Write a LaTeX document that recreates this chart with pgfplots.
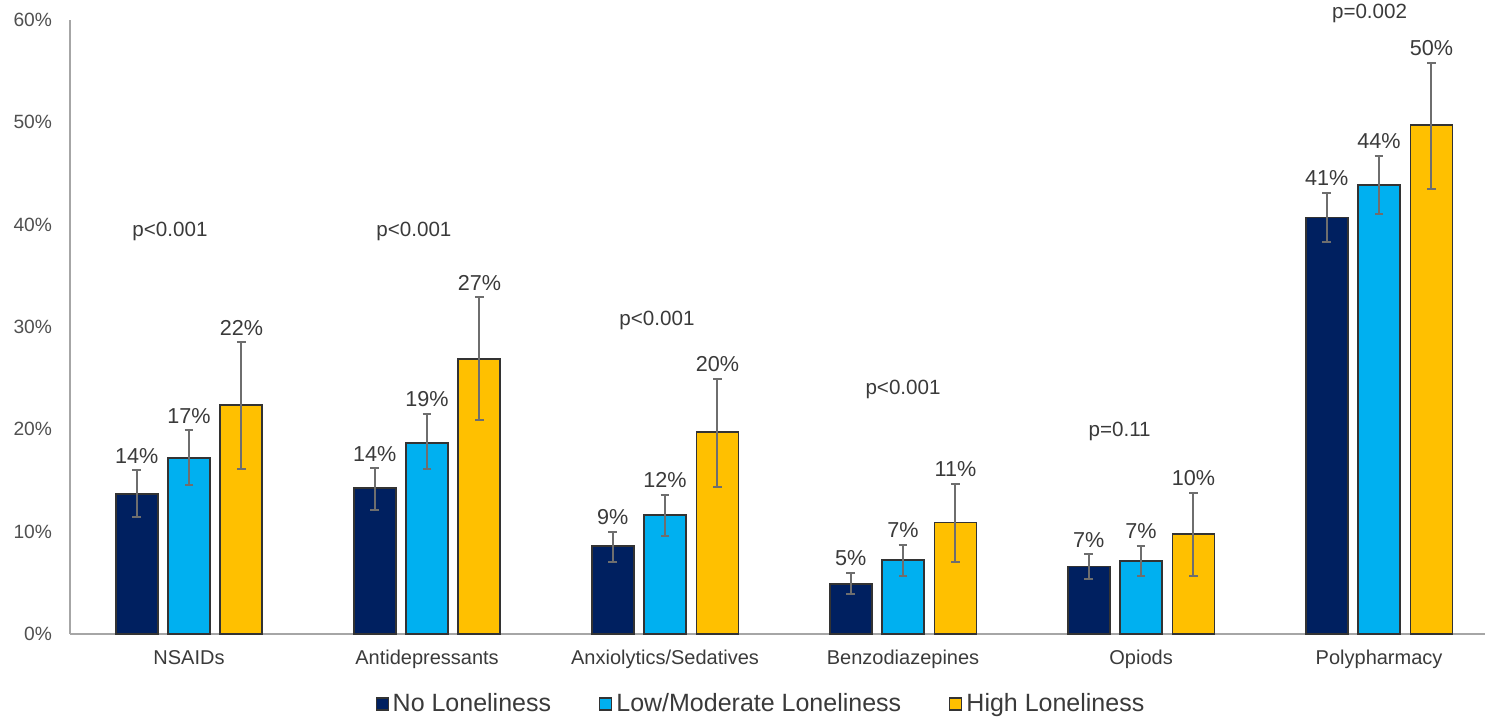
\documentclass[border=0pt]{standalone}
\usepackage{pgfplots}
\pgfplotsset{compat=1.18}
\usepackage{pgfplotstable}
\usepackage{fontspec}
\setmainfont{Liberation Sans}

\definecolor{navy}{HTML}{002060}
\definecolor{sky}{HTML}{00B0F0}
\definecolor{amber}{HTML}{FFC000}
\definecolor{txt}{HTML}{3A3A3A}
\definecolor{ticktxt}{HTML}{505050}
\definecolor{axisgray}{HTML}{A6A6A6}
\definecolor{errgray}{HTML}{6E6E6E}
\definecolor{edge}{HTML}{333333}

% share (%) with upper and lower error, one table per loneliness group
\pgfplotstableread{
cat val  ep  em
0   13.7 2.3 2.3
1   14.3 1.9 2.2
2   8.6  1.4 1.6
3   4.9  1.1 1.0
4   6.6  1.2 1.2
5   40.7 2.4 2.4
}\tblNone
\pgfplotstableread{
cat val  ep  em
0   17.2 2.7 2.6
1   18.7 2.8 2.6
2   11.6 2.0 2.0
3   7.2  1.5 1.5
4   7.1  1.5 1.4
5   43.9 2.8 2.9
}\tblLow
\pgfplotstableread{
cat val  ep  em
0   22.4 6.1 6.3
1   26.9 6.0 6.0
2   19.7 5.2 5.3
3   10.9 3.8 3.9
4   9.8  4.0 4.1
5   49.7 6.1 6.2
}\tblHigh

\pgfplotsset{
  grp bar/.style={ybar, bar width=21pt, bar shift=0pt, fill=#1,
    draw=edge, line width=0.9pt,
    error bars/.cd, y dir=both, y explicit,
    error bar style={errgray, line width=1pt},
    error mark options={errgray, line width=1pt, mark size=2.2pt, rotate=90}},
  grp label/.style={forget plot, draw=none, mark=none,
    point meta=explicit, nodes near coords,
    nodes near coords={\pgfmathprintnumber[fixed,precision=0]{\pgfplotspointmeta}\%},
    every node near coord/.style={anchor=south, inner sep=0pt, yshift=3.3pt,
      font=\fontsize{10.8}{12}\selectfont, text=txt}},
}

\begin{document}
\begin{tikzpicture}
\begin{axis}[
  scale only axis, width=707.5pt, height=307pt,
  xmin=-0.5, xmax=5.445, ymin=0, ymax=60,
  axis x line*=bottom, axis y line*=left,
  axis line style={axisgray, line width=1pt},
  clip=false,
  xtick={0,...,5},
  xticklabels={NSAIDs,Antidepressants,Anxiolytics/Sedatives,Benzodiazepines,Opiods,Polypharmacy},
  ytick={0,10,...,60},
  yticklabel={\pgfmathprintnumber{\tick}\%},
  /pgf/number format/assume math mode=true,
  major tick length=0pt,
  xticklabel style={font=\fontsize{10}{12}\selectfont, text=txt, yshift=-4.5pt},
  yticklabel style={font=\fontsize{9.6}{12}\selectfont, text=ticktxt, xshift=-5.5pt},
  legend style={at={(0.489,-0.114)}, anchor=center, draw=none, fill=none,
    legend columns=3, font=\fontsize{12.5}{15}\selectfont, text=txt,
    /tikz/every even column/.append style={column sep=22pt}},
  legend cell align=left,
  legend image code/.code={\draw[#1,/tikz/.cd,draw=edge,line width=0.6pt] (0pt,-3pt) rectangle (6pt,3pt);},
]
\addplot[grp bar=navy] table[x expr=\thisrow{cat}-0.22, y=val, y error plus=ep, y error minus=em]{\tblNone};
\addlegendentry{No Loneliness}
\addplot[grp bar=sky] table[x expr=\thisrow{cat}, y=val, y error plus=ep, y error minus=em]{\tblLow};
\addlegendentry{Low/Moderate Loneliness}
\addplot[grp bar=amber] table[x expr=\thisrow{cat}+0.22, y=val, y error plus=ep, y error minus=em]{\tblHigh};
\addlegendentry{High Loneliness}

% value labels just above each error bar
\addplot[grp label] table[x expr=\thisrow{cat}-0.22, y expr=\thisrow{val}+\thisrow{ep}, meta=val]{\tblNone};
\addplot[grp label] table[x expr=\thisrow{cat}, y expr=\thisrow{val}+\thisrow{ep}, meta=val]{\tblLow};
\addplot[grp label] table[x expr=\thisrow{cat}+0.22, y expr=\thisrow{val}+\thisrow{ep}, meta=val]{\tblHigh};

% p-values of the group comparisons
\begin{scope}[every node/.style={font=\fontsize{10.3}{12}\selectfont, text=txt}]
\node at (axis cs:-0.08,39.3) {p<0.001};
\node at (axis cs:0.945,39.3) {p<0.001};
\node at (axis cs:1.966,30.6) {p<0.001};
\node at (axis cs:3.0,23.9) {p<0.001};
\node at (axis cs:3.91,19.8) {p=0.11};
\node at (axis cs:4.96,60.6) {p=0.002};
\end{scope}
\end{axis}
\pgfresetboundingbox
\path ([xshift=-35pt,yshift=-42pt]current axis.south west) rectangle ([yshift=10pt]current axis.north east);
\end{tikzpicture}
\end{document}
